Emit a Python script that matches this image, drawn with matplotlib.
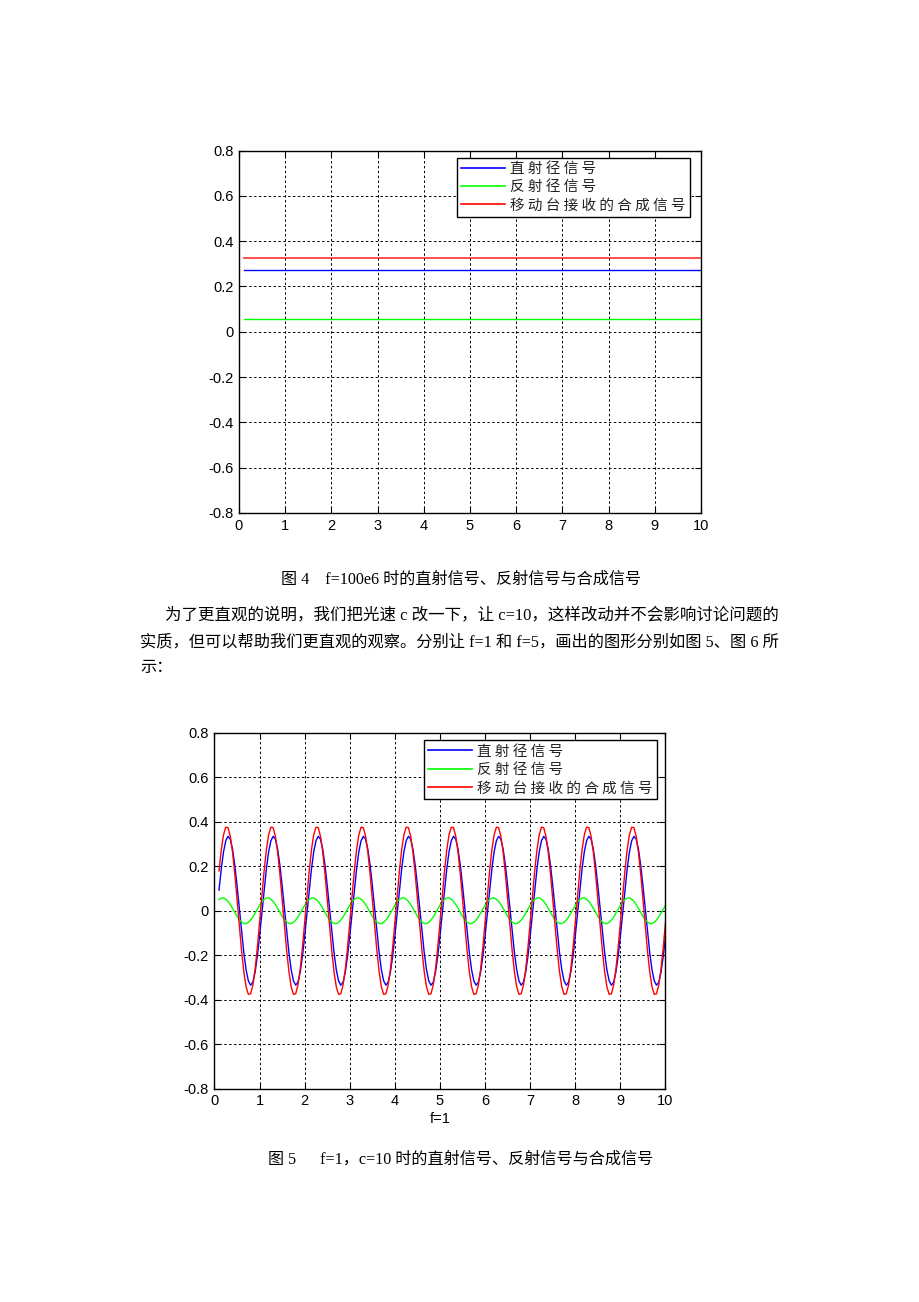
import numpy as np
import matplotlib
matplotlib.use("Agg")
import matplotlib.pyplot as plt
from matplotlib.lines import Line2D

# ---------------- data ----------------
legend_labels = ["直射径信号", "反射径信号", "移动台接收的合成信号"]
x_ticks = [0, 1, 2, 3, 4, 5, 6, 7, 8, 9, 10]
y_ticks = [-0.8, -0.6, -0.4, -0.2, 0, 0.2, 0.4, 0.6, 0.8]
y_ticklabels = ["-0.8", "-0.6", "-0.4", "-0.2", "0", "0.2", "0.4", "0.6", "0.8"]

# Figure 4 (f = 100e6): constant levels
t_fig4 = [0.1, 10.0]
direct_fig4 = [0.271, 0.271]
reflect_fig4 = [0.055, 0.055]
combined_fig4 = [0.324, 0.324]

# Figure 5 (f = 1, c = 10): sampled every 0.05 from t = 0.1 to t = 10
t_fig5 = np.linspace(0.1, 10.0, 199)
direct_fig5 = [
    0.093, 0.188, 0.265, 0.315, 0.335, 0.322, 0.277, 0.205, 0.113, 0.011, -0.093, -0.188, -0.265, -0.315, -0.335, -0.322, -0.277, -0.205,
    -0.113, -0.011, 0.093, 0.188, 0.265, 0.315, 0.335, 0.322, 0.277, 0.205, 0.113, 0.011, -0.093, -0.188, -0.265, -0.315, -0.335, -0.322, -0.277, -0.205,
    -0.113, -0.011, 0.093, 0.188, 0.265, 0.315, 0.335, 0.322, 0.277, 0.205, 0.113, 0.011, -0.093, -0.188, -0.265, -0.315, -0.335, -0.322, -0.277, -0.205,
    -0.113, -0.011, 0.093, 0.188, 0.265, 0.315, 0.335, 0.322, 0.277, 0.205, 0.113, 0.011, -0.093, -0.188, -0.265, -0.315, -0.335, -0.322, -0.277, -0.205,
    -0.113, -0.011, 0.093, 0.188, 0.265, 0.315, 0.335, 0.322, 0.277, 0.205, 0.113, 0.011, -0.093, -0.188, -0.265, -0.315, -0.335, -0.322, -0.277, -0.205,
    -0.113, -0.011, 0.093, 0.188, 0.265, 0.315, 0.335, 0.322, 0.277, 0.205, 0.113, 0.011, -0.093, -0.188, -0.265, -0.315, -0.335, -0.322, -0.277, -0.205,
    -0.113, -0.011, 0.093, 0.188, 0.265, 0.315, 0.335, 0.322, 0.277, 0.205, 0.113, 0.011, -0.093, -0.188, -0.265, -0.315, -0.335, -0.322, -0.277, -0.205,
    -0.113, -0.011, 0.093, 0.188, 0.265, 0.315, 0.335, 0.322, 0.277, 0.205, 0.113, 0.011, -0.093, -0.188, -0.265, -0.315, -0.335, -0.322, -0.277, -0.205,
    -0.113, -0.011, 0.093, 0.188, 0.265, 0.315, 0.335, 0.322, 0.277, 0.205, 0.113, 0.011, -0.093, -0.188, -0.265, -0.315, -0.335, -0.322, -0.277, -0.205,
    -0.113, -0.011, 0.093, 0.188, 0.265, 0.315, 0.335, 0.322, 0.277, 0.205, 0.113, 0.011, -0.093, -0.188, -0.265, -0.315, -0.335, -0.322, -0.277, -0.205,
    -0.113,
]
reflect_fig5 = [
    0.051, 0.057, 0.058, 0.052, 0.042, 0.028, 0.011, -0.007, -0.025, -0.040, -0.051, -0.057, -0.058, -0.052, -0.042, -0.028, -0.011, 0.007,
    0.025, 0.040, 0.051, 0.057, 0.058, 0.052, 0.042, 0.028, 0.011, -0.007, -0.025, -0.040, -0.051, -0.057, -0.058, -0.052, -0.042, -0.028, -0.011, 0.007,
    0.025, 0.040, 0.051, 0.057, 0.058, 0.052, 0.042, 0.028, 0.011, -0.007, -0.025, -0.040, -0.051, -0.057, -0.058, -0.052, -0.042, -0.028, -0.011, 0.007,
    0.025, 0.040, 0.051, 0.057, 0.058, 0.052, 0.042, 0.028, 0.011, -0.007, -0.025, -0.040, -0.051, -0.057, -0.058, -0.052, -0.042, -0.028, -0.011, 0.007,
    0.025, 0.040, 0.051, 0.057, 0.058, 0.052, 0.042, 0.028, 0.011, -0.007, -0.025, -0.040, -0.051, -0.057, -0.058, -0.052, -0.042, -0.028, -0.011, 0.007,
    0.025, 0.040, 0.051, 0.057, 0.058, 0.052, 0.042, 0.028, 0.011, -0.007, -0.025, -0.040, -0.051, -0.057, -0.058, -0.052, -0.042, -0.028, -0.011, 0.007,
    0.025, 0.040, 0.051, 0.057, 0.058, 0.052, 0.042, 0.028, 0.011, -0.007, -0.025, -0.040, -0.051, -0.057, -0.058, -0.052, -0.042, -0.028, -0.011, 0.007,
    0.025, 0.040, 0.051, 0.057, 0.058, 0.052, 0.042, 0.028, 0.011, -0.007, -0.025, -0.040, -0.051, -0.057, -0.058, -0.052, -0.042, -0.028, -0.011, 0.007,
    0.025, 0.040, 0.051, 0.057, 0.058, 0.052, 0.042, 0.028, 0.011, -0.007, -0.025, -0.040, -0.051, -0.057, -0.058, -0.052, -0.042, -0.028, -0.011, 0.007,
    0.025, 0.040, 0.051, 0.057, 0.058, 0.052, 0.042, 0.028, 0.011, -0.007, -0.025, -0.040, -0.051, -0.057, -0.058, -0.052, -0.042, -0.028, -0.011, 0.007,
    0.025,
]
combined_fig5 = [
    0.179, 0.274, 0.342, 0.376, 0.374, 0.335, 0.264, 0.166, 0.052, -0.067, -0.179, -0.274, -0.342, -0.376, -0.374, -0.335, -0.264, -0.166,
    -0.052, 0.067, 0.179, 0.274, 0.342, 0.376, 0.374, 0.335, 0.264, 0.166, 0.052, -0.067, -0.179, -0.274, -0.342, -0.376, -0.374, -0.335, -0.264, -0.166,
    -0.052, 0.067, 0.179, 0.274, 0.342, 0.376, 0.374, 0.335, 0.264, 0.166, 0.052, -0.067, -0.179, -0.274, -0.342, -0.376, -0.374, -0.335, -0.264, -0.166,
    -0.052, 0.067, 0.179, 0.274, 0.342, 0.376, 0.374, 0.335, 0.264, 0.166, 0.052, -0.067, -0.179, -0.274, -0.342, -0.376, -0.374, -0.335, -0.264, -0.166,
    -0.052, 0.067, 0.179, 0.274, 0.342, 0.376, 0.374, 0.335, 0.264, 0.166, 0.052, -0.067, -0.179, -0.274, -0.342, -0.376, -0.374, -0.335, -0.264, -0.166,
    -0.052, 0.067, 0.179, 0.274, 0.342, 0.376, 0.374, 0.335, 0.264, 0.166, 0.052, -0.067, -0.179, -0.274, -0.342, -0.376, -0.374, -0.335, -0.264, -0.166,
    -0.052, 0.067, 0.179, 0.274, 0.342, 0.376, 0.374, 0.335, 0.264, 0.166, 0.052, -0.067, -0.179, -0.274, -0.342, -0.376, -0.374, -0.335, -0.264, -0.166,
    -0.052, 0.067, 0.179, 0.274, 0.342, 0.376, 0.374, 0.335, 0.264, 0.166, 0.052, -0.067, -0.179, -0.274, -0.342, -0.376, -0.374, -0.335, -0.264, -0.166,
    -0.052, 0.067, 0.179, 0.274, 0.342, 0.376, 0.374, 0.335, 0.264, 0.166, 0.052, -0.067, -0.179, -0.274, -0.342, -0.376, -0.374, -0.335, -0.264, -0.166,
    -0.052, 0.067, 0.179, 0.274, 0.342, 0.376, 0.374, 0.335, 0.264, 0.166, 0.052, -0.067, -0.179, -0.274, -0.342, -0.376, -0.374, -0.335, -0.264, -0.166,
    -0.052,
]

caption4 = "图 4    f=100e6 时的直射信号、反射信号与合成信号"
body_lines = [
    "为了更直观的说明，我们把光速 c 改一下，让 c=10，这样改动并不会影响讨论问题的",
    "实质，但可以帮助我们更直观的观察。分别让 f=1 和 f=5，画出的图形分别如图 5、图 6 所",
    "示：",
]
xlabel5 = "f=1"
caption5 = "图 5      f=1，c=10 时的直射信号、反射信号与合成信号"

# ---------------- styling ----------------
W, H = 920, 1302
fig = plt.figure(figsize=(W / 100, H / 100), dpi=100)
fig.patch.set_facecolor("white")

tick_font = ["Liberation Sans", "DejaVu Sans"]
cjk_font = ["Noto Sans CJK SC", "DejaVu Sans"]
doc_font = ["Liberation Serif", "Noto Sans CJK SC", "DejaVu Sans"]
colors = ["#0000ff", "#00ff00", "#ff0000"]


def px_axes(left, top, right, bottom):
    return fig.add_axes([left / W, 1 - bottom / H, (right - left) / W, (bottom - top) / H])


def style_axes(ax):
    ax.set_xlim(0, 10)
    ax.set_ylim(-0.8, 0.8)
    ax.set_xticks(x_ticks)
    ax.set_yticks(y_ticks)
    ax.set_xticklabels([str(v) for v in x_ticks], fontfamily=tick_font, fontsize=10.5)
    ax.set_yticklabels(y_ticklabels, fontfamily=tick_font, fontsize=10.5)
    ax.tick_params(direction="in", top=True, right=True, length=4, width=0.8, pad=4, colors="black")
    ax.grid(True, color="black", linestyle=(0, (2.5, 2.5)), linewidth=0.7)
    for s in ax.spines.values():
        s.set_linewidth(1.0)
        s.set_color("black")


def add_legend(ax, anchor):
    handles = [Line2D([], [], color=c, lw=1.2) for c in colors]
    labels = [" ".join(list(l)) for l in legend_labels]
    leg = ax.legend(handles, labels, loc="upper right", bbox_to_anchor=anchor, borderaxespad=0,
                    prop={"family": cjk_font, "size": 10.5}, frameon=True, fancybox=False,
                    framealpha=1, edgecolor="black", handlelength=3.0, handletextpad=0.35,
                    labelspacing=0.3, borderpad=0.28)
    leg.get_frame().set_linewidth(1.0)
    for txt in leg.get_texts():
        txt.set_color("#222222")


# Figure 4
ax1 = px_axes(239, 150.5, 701, 513)
style_axes(ax1)
ax1.plot(t_fig4, direct_fig4, color=colors[0], lw=1.0)
ax1.plot(t_fig4, reflect_fig4, color=colors[1], lw=1.0)
ax1.plot(t_fig4, combined_fig4, color=colors[2], lw=1.3, alpha=0.75)
add_legend(ax1, (0.976, 0.98))

# Figure 5
ax2 = px_axes(214.5, 733, 665.5, 1088.5)
style_axes(ax2)
ax2.plot(t_fig5, direct_fig5, color=colors[0], lw=1.0)
ax2.plot(t_fig5, reflect_fig5, color=colors[1], lw=1.0)
ax2.plot(t_fig5, combined_fig5, color=colors[2], lw=1.0)
add_legend(ax2, (0.981, 0.979))
ax2.set_xlabel(xlabel5, fontfamily=tick_font, fontsize=10.5, labelpad=3)

# Document text
fig.text(281 / W, 1 - 580 / H, caption4, family=doc_font, fontsize=11.6, ha="left", va="center")
fig.text(165 / W, 1 - 615 / H, body_lines[0], family=doc_font, fontsize=11.85, ha="left", va="center")
fig.text(140 / W, 1 - 642 / H, body_lines[1], family=doc_font, fontsize=11.7, ha="left", va="center")
fig.text(140 / W, 1 - 668 / H, body_lines[2], family=doc_font, fontsize=11.7, ha="left", va="center")
fig.text(268 / W, 1 - 1160 / H, caption5, family=doc_font, fontsize=11.6, ha="left", va="center")

fig.savefig("out.png", dpi=100, facecolor="white")
